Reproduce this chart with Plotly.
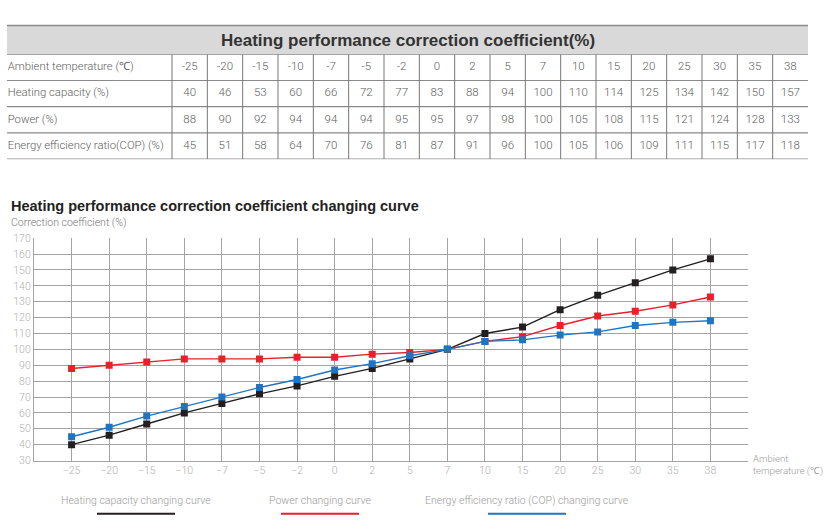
import plotly.graph_objects as go

# ---------------- data ----------------
temps = [-25, -20, -15, -10, -7, -5, -2, 0, 2, 5, 7, 10, 15, 20, 25, 30, 35, 38]
heating_capacity = [40, 46, 53, 60, 66, 72, 77, 83, 88, 94, 100, 110, 114, 125, 134, 142, 150, 157]
power = [88, 90, 92, 94, 94, 94, 95, 95, 97, 98, 100, 105, 108, 115, 121, 124, 128, 133]
cop = [45, 51, 58, 64, 70, 76, 81, 87, 91, 96, 100, 105, 106, 109, 111, 115, 117, 118]

row_labels = ["Ambient temperature (\u2103)", "Heating capacity (%)", "Power (%)",
              "Energy efficiency ratio(COP) (%)"]
table_title = "Heating performance correction coefficient(%)"
chart_title = "Heating performance correction coefficient changing curve"
y_title = "Correction coefficient (%)"
x_title = "Ambient<br>temperature (\u2103)"
series_names = ["Heating capacity changing curve", "Power changing curve",
                "Energy efficiency ratio (COP) changing curve"]
series_colors = ["#231f20", "#e8202a", "#1f75c2"]

# ---------------- layout helpers ----------------
W, H = 825, 530
def fx(p):
    return p / W
def fy(p):
    return 1 - p / H

FONT = "Roboto"
TXT = "#606060"
LINE = "#8a8a8a"

fig = go.Figure()

# ---------------- table (on x2 / y2) ----------------
n_cols = len(temps)
first_w = 4.67  # width of first column in numeric-column units
col_centers = [first_w + i + 0.5 for i in range(n_cols)]
rows_values = [[str(t) for t in temps], [str(v) for v in heating_capacity],
               [str(v) for v in power], [str(v) for v in cop]]

for r, vals in enumerate(rows_values):
    fig.add_trace(go.Scatter(
        x=col_centers, y=[r + 0.5] * n_cols, mode="text", text=vals,
        textfont=dict(family=FONT, size=11.5, color=TXT, weight=300),
        textposition="middle center", xaxis="x2", yaxis="y2",
        hoverinfo="skip", showlegend=False))
fig.add_trace(go.Scatter(
    x=[0.02] * len(row_labels), y=[r + 0.5 for r in range(len(row_labels))],
    mode="text", text=row_labels,
    textfont=dict(family=FONT, size=11.3, color=TXT, weight=300),
    textposition="middle right", xaxis="x2", yaxis="y2",
    hoverinfo="skip", showlegend=False))

shapes = []
total_w = first_w + n_cols
for r in range(len(row_labels) + 1):
    shapes.append(dict(type="line", xref="x2", yref="y2", x0=0, x1=total_w, y0=r, y1=r,
                       line=dict(color=LINE, width=1.2)))
for i in range(n_cols):
    shapes.append(dict(type="line", xref="x2", yref="y2", x0=first_w + i, x1=first_w + i,
                       y0=0, y1=len(row_labels), line=dict(color="#777777", width=1)))
# title band
shapes.append(dict(type="rect", xref="paper", yref="paper", x0=fx(7), x1=fx(808),
                   y0=fy(49.5), y1=fy(20), fillcolor="#d9d9d9", line=dict(width=0),
                   layer="below"))
shapes.append(dict(type="line", xref="paper", yref="paper", x0=fx(7), x1=fx(808),
                   y0=fy(20), y1=fy(20), line=dict(color=LINE, width=1.5)))

# ---------------- line chart ----------------
xcats = [str(t).replace("-", "\u2212") for t in temps]
for vals, name, col in zip([heating_capacity, power, cop], series_names, series_colors):
    fig.add_trace(go.Scatter(
        x=xcats, y=vals, mode="lines+markers", name=name,
        line=dict(color=col, width=1.4),
        marker=dict(symbol="square", size=7, color=col),
        showlegend=False))

# custom legend: text with a line underneath
legend_centers = [136, 320, 527]
annotations = []
for name, col, cx in zip(series_names, series_colors, legend_centers):
    annotations.append(dict(xref="paper", yref="paper", x=fx(cx), y=fy(507), text=name,
                            showarrow=False, xanchor="center", yanchor="middle",
                            font=dict(family=FONT, size=10.5, color="#9a9a9a", weight=300)))
    shapes.append(dict(type="line", xref="paper", yref="paper", x0=fx(cx - 39), x1=fx(cx + 39),
                       y0=fy(520.5), y1=fy(520.5), line=dict(color=col, width=2)))

annotations += [
    dict(xref="paper", yref="paper", x=fx(408), y=fy(35), text="<b>" + table_title + "</b>",
         showarrow=False, xanchor="center", yanchor="middle",
         font=dict(family="Liberation Sans", size=17, color="#333333")),
    dict(xref="paper", yref="paper", x=fx(9), y=fy(205), text="<b>" + chart_title + "</b>",
         showarrow=False, xanchor="left", yanchor="middle",
         font=dict(family="Liberation Sans", size=14.5, color="#222222")),
    dict(xref="paper", yref="paper", x=fx(9), y=fy(222), text=y_title,
         showarrow=False, xanchor="left", yanchor="middle",
         font=dict(family=FONT, size=10.5, color="#777777", weight=300)),
    dict(xref="paper", yref="paper", x=fx(751), y=fy(471), text=x_title,
         showarrow=False, xanchor="left", yanchor="middle", align="left",
         font=dict(family=FONT, size=9.6, color="#9a9a9a", weight=300)),
]

GRID = "#a3a3a3"
fig.update_layout(
    width=W, height=H, margin=dict(l=0, r=0, t=0, b=0),
    paper_bgcolor="white", plot_bgcolor="white",
    xaxis=dict(domain=[fx(34), fx(748)], type="category", range=[-1, 18],
               showgrid=True, gridcolor=GRID, gridwidth=1.3,
               showline=True, linecolor=GRID, linewidth=1.3,
               ticks="", tickfont=dict(family=FONT, size=10.5, color="#b0b0b0", weight=300),
               zeroline=False, fixedrange=True),
    yaxis=dict(domain=[fy(466), fy(238)], range=[30, 170], dtick=10, tick0=30,
               showgrid=True, gridcolor=GRID, gridwidth=1.3,
               showline=True, linecolor=GRID, linewidth=1.3,
               ticks="", tickfont=dict(family=FONT, size=10.5, color="#b0b0b0", weight=300),
               zeroline=False, fixedrange=True),
    xaxis2=dict(domain=[fx(7), fx(808)], range=[0, total_w], visible=False,
                anchor="y2", fixedrange=True),
    yaxis2=dict(domain=[fy(157), fy(49.5)], range=[len(row_labels), 0], visible=False,
                anchor="x2", fixedrange=True),
    shapes=shapes, annotations=annotations,
)

fig.write_html("out.html", config={"displayModeBar": False},
               post_script="document.body.style.margin='0';document.body.style.padding='0';"
                           "document.documentElement.style.overflow='hidden';")
